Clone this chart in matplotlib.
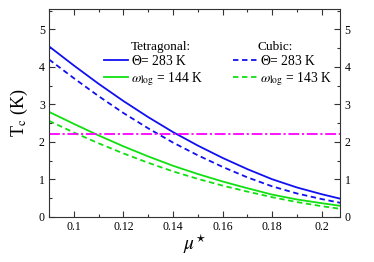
import numpy as np
import matplotlib
matplotlib.use("Agg")
import matplotlib.pyplot as plt
from matplotlib.ticker import MultipleLocator

plt.rcParams['font.family'] = ['Liberation Serif', 'DejaVu Serif']
plt.rcParams['mathtext.fontset'] = 'stix'

# mu* values and Tc (K)
mu = [0.09, 0.10, 0.11, 0.12, 0.13, 0.14, 0.15, 0.16, 0.17, 0.18, 0.19, 0.20, 0.2075]
tet_theta = [4.55, 4.04, 3.55, 3.09, 2.66, 2.26, 1.90, 1.57, 1.27, 1.00, 0.78, 0.60, 0.48]
cub_theta = [4.20, 3.70, 3.22, 2.77, 2.36, 1.98, 1.64, 1.33, 1.05, 0.81, 0.62, 0.47, 0.37]
tet_wlog = [2.80, 2.48, 2.17, 1.88, 1.61, 1.36, 1.14, 0.94, 0.76, 0.59, 0.46, 0.36, 0.29]
cub_wlog = [2.56, 2.25, 1.96, 1.69, 1.44, 1.21, 1.01, 0.83, 0.67, 0.52, 0.39, 0.28, 0.21]
tc_exp = 2.2

BLUE = '#1010f0'
GREEN = '#10e010'
MAGENTA = '#ff00ff'

fig = plt.figure(figsize=(3.74, 2.62), dpi=100)
ax = fig.add_axes([0.131, 0.173, 0.779, 0.793])

l1, = ax.plot(mu, tet_theta, color=BLUE, lw=1.3)
l2, = ax.plot(mu, tet_wlog, color=GREEN, lw=1.3)
l3, = ax.plot(mu, cub_theta, color=BLUE, lw=1.3, ls=(0, (3, 2)))
l4, = ax.plot(mu, cub_wlog, color=GREEN, lw=1.3, ls=(0, (3, 2)))
ax.axhline(tc_exp, color=MAGENTA, lw=1.3, ls=(0, (6, 1.5, 1.2, 1.5)))

ax.set_xlim(0.09, 0.2075)
ax.set_ylim(0, 5.55)
ax.xaxis.set_minor_locator(MultipleLocator(0.01))
ax.yaxis.set_major_locator(MultipleLocator(1))
ax.yaxis.set_minor_locator(MultipleLocator(0.5))
ax.set_xticks([0.1, 0.12, 0.14, 0.16, 0.18, 0.2])
ax.set_xticklabels(['0.1', '0.12', '0.14', '0.16', '0.18', '0.2'])
ax.tick_params(which='both', direction='in', top=True, right=True, labelright=True,
               labelsize=8.5, color='#333333', width=0.8)
ax.tick_params(which='major', length=4, pad=3)
ax.tick_params(which='minor', length=2)
for s in ax.spines.values():
    s.set_color('#333333')
    s.set_linewidth(0.8)

ax.set_xlabel(r'$\mu^{\star}$', fontsize=14, labelpad=0)
ax.set_ylabel(r'T$_{\rm c}$ (K)', fontsize=13, labelpad=6)

leg_kw = dict(loc='upper left', frameon=False, fontsize=9.8, handlelength=1.75,
              handletextpad=0.25, labelspacing=0.15, borderaxespad=0, borderpad=0)
leg1 = ax.legend([l1, l2], [r'$\Theta$= 283 K', r'$\omega_{\rm log}$ = 144 K'],
                 bbox_to_anchor=(0.189, 0.783), **leg_kw)
ax.add_artist(leg1)
ax.legend([l3, l4], [r'$\Theta$= 283 K', r'$\omega_{\rm log}$ = 143 K'],
          bbox_to_anchor=(0.632, 0.783), **leg_kw)
ax.text(0.282, 0.788, 'Tetragonal:', transform=ax.transAxes, fontsize=9.5, va='bottom')
ax.text(0.715, 0.788, 'Cubic:', transform=ax.transAxes, fontsize=9.5, va='bottom')

fig.savefig('out.png', dpi=100)
